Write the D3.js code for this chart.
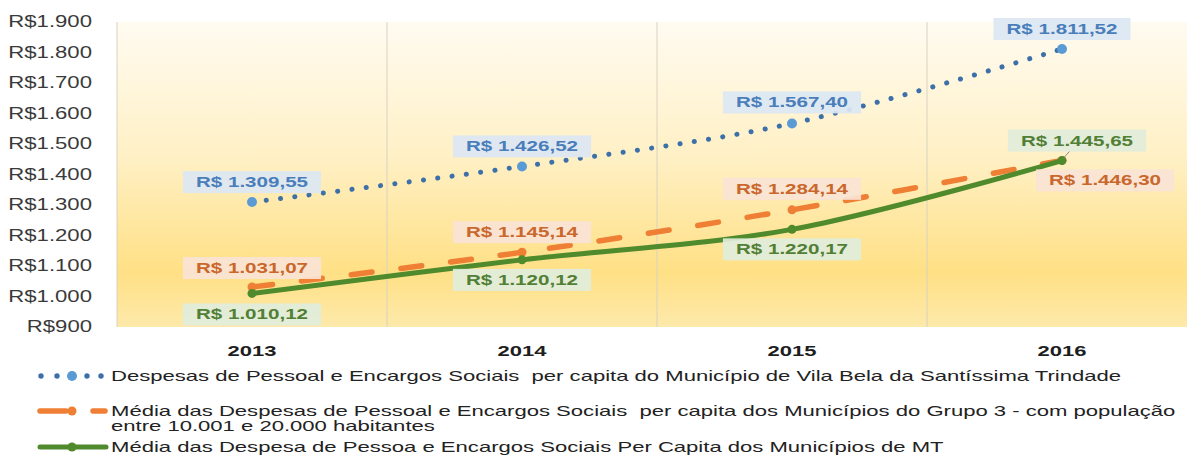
<!DOCTYPE html>
<html>
<head>
<meta charset="utf-8">
<script src="https://cdn.jsdelivr.net/npm/d3@7"></script>
<style>
  body { margin: 0; background: #fff; }
  text { font-family: "Liberation Sans", Arial, sans-serif; white-space: pre; }
</style>
</head>
<body>
<div id="chart"></div>
<script>
/* Data */
var years = ["2013", "2014", "2015", "2016"];
var vilaBela = [1309.55, 1426.52, 1567.40, 1811.52];
var grupo3 = [1031.07, 1145.14, 1284.14, 1446.30];
var mediaMT = [1010.12, 1120.12, 1220.17, 1445.65];
var yTicks = [900, 1000, 1100, 1200, 1300, 1400, 1500, 1600, 1700, 1800, 1900];
var legendLabels = [
  ["Despesas de Pessoal e Encargos Sociais  per capita do Município de Vila Bela da Santíssima Trindade"],
  ["Média das Despesas de Pessoal e Encargos Sociais  per capita dos Municípios do Grupo 3 - com população",
   "entre 10.001 e 20.000 habitantes"],
  ["Média das Despesa de Pessoa e Encargos Sociais Per Capita dos Municípios de MT"]
];

var width = 1187, height = 455;
var margin = {top: 22, left: 117, bottom: 327, right: 1197};
var SX = 1.42;   // the original picture is stretched sideways

var svg = d3.select("#chart").append("svg")
    .attr("width", width).attr("height", height);

var x = d3.scaleBand().domain(years).range([margin.left, margin.right]);
var y = d3.scaleLinear().domain([900, 1900]).range([margin.bottom, margin.top]);

function fmt(v) {
  var s = v.toFixed(2).split(".");
  return "R$ " + s[0].replace(/\B(?=(\d{3})+(?!\d))/g, ".") + "," + s[1];
}
function tickFmt(v) {
  return "R$" + String(v).replace(/\B(?=(\d{3})+(?!\d))/g, ".");
}

/* stretched text helper */
function stext(sel, tx, ty, str) {
  return sel.append("g")
      .attr("transform", "translate(" + tx + "," + ty + ") scale(" + SX + ",1)")
    .append("text").text(str);
}

/* plot background */
var defs = svg.append("defs");
var grad = defs.append("linearGradient").attr("id", "bg")
    .attr("x1", 0).attr("y1", 0).attr("x2", 0).attr("y2", 1);
grad.append("stop").attr("offset", "0%").attr("stop-color", "#fffbf1");
grad.append("stop").attr("offset", "45%").attr("stop-color", "#fff0c4");
grad.append("stop").attr("offset", "82%").attr("stop-color", "#ffe085");
grad.append("stop").attr("offset", "100%").attr("stop-color", "#fde9aa");

svg.append("rect")
    .attr("x", margin.left).attr("y", margin.top)
    .attr("width", margin.right - margin.left)
    .attr("height", margin.bottom - margin.top)
    .attr("fill", "url(#bg)");

/* vertical grid lines between the years */
svg.append("g").selectAll("line")
  .data(years)
  .enter().append("line")
    .attr("x1", function(d) { return x(d); })
    .attr("x2", function(d) { return x(d); })
    .attr("y1", margin.top).attr("y2", margin.bottom)
    .attr("stroke", "#d8d2c0").attr("stroke-width", 1);

/* y axis labels */
var yAx = svg.append("g").attr("fill", "#3a3a3a").attr("font-size", 15.6);
yTicks.forEach(function(t) {
  stext(yAx, 92, y(t) + 5, tickFmt(t)).attr("text-anchor", "end");
});

/* x axis labels */
var xAx = svg.append("g").attr("fill", "#1e1e1e").attr("font-size", 15.5).attr("font-weight", "bold");
years.forEach(function(d) {
  stext(xAx, x(d) + x.bandwidth() / 2, 356, d).attr("text-anchor", "middle");
});

var series = [
  {values: vilaBela, color: "#3d70a9", marker: "#5b9bd5", r: 5, width: 5, dash: "0.1 14.3",
   boxFill: "#dce7f3", textColor: "#4a7ebb",
   offsets: [[0, -20], [0, -20], [0, -21], [0, -20]]},
  {values: grupo3, color: "#ee7f34", marker: "#ee7f34", r: 4.5, width: 5.5, dash: "21 29",
   boxFill: "#fae3d5", textColor: "#c9672c",
   offsets: [[0, -19], [0, -20], [0, -21], [43, 20]]},
  {values: mediaMT, color: "#4f8a2c", marker: "#4f8a2c", r: 4.5, width: 5, dash: null,
   boxFill: "#e1eddb", textColor: "#527f36",
   offsets: [[0, 21], [0, 20], [0, 20], [15, -20]]}
];

var line = d3.line()
    .x(function(d, i) { return x(years[i]) + x.bandwidth() / 2; })
    .y(function(d) { return y(d); })
    .curve(d3.curveCatmullRom.alpha(0.5));

series.forEach(function(s) {
  svg.append("path")
      .attr("d", line(s.values))
      .attr("fill", "none")
      .attr("stroke", s.color)
      .attr("stroke-width", s.width)
      .attr("stroke-linecap", "round")
      .attr("stroke-dasharray", s.dash);
  svg.append("g").selectAll("circle")
    .data(s.values)
    .enter().append("circle")
      .attr("cx", function(d, i) { return x(years[i]) + x.bandwidth() / 2; })
      .attr("cy", function(d) { return y(d); })
      .attr("r", s.r)
      .attr("fill", s.marker);
});

/* leader line for the green 2016 label */
svg.append("line")
    .attr("x1", x("2016") + x.bandwidth() / 2 + 2).attr("y1", y(mediaMT[3]) - 3)
    .attr("x2", x("2016") + x.bandwidth() / 2 + 9).attr("y2", y(mediaMT[3]) - 11)
    .attr("stroke", "#8a8a8a").attr("stroke-width", 1);

/* data labels */
series.forEach(function(s) {
  s.values.forEach(function(v, i) {
    var cx = x(years[i]) + x.bandwidth() / 2 + s.offsets[i][0];
    var cy = y(v) + s.offsets[i][1];
    var g = svg.append("g");
    var box = g.append("rect");
    var t = stext(g, cx, cy + 5, fmt(v))
        .attr("text-anchor", "middle")
        .attr("font-size", 14.5)
        .attr("font-weight", "bold")
        .attr("fill", s.textColor);
    var w = t.node().getComputedTextLength() * SX + 26;
    box.attr("x", cx - w / 2).attr("y", cy - 11)
       .attr("width", w).attr("height", 22)
       .attr("fill", s.boxFill).attr("fill-opacity", 0.92);
  });
});

/* legend */
var leg = svg.append("g");
var legY = [376, 411, 447];

// blue dotted key
[41, 57, 87, 101].forEach(function(px) {
  leg.append("circle").attr("cx", px).attr("cy", legY[0]).attr("r", 2.7).attr("fill", series[0].color);
});
leg.append("circle").attr("cx", 72).attr("cy", legY[0]).attr("r", 5).attr("fill", series[0].marker);

// orange dashed key
leg.append("line").attr("x1", 40).attr("x2", 66).attr("y1", legY[1]).attr("y2", legY[1])
    .attr("stroke", series[1].color).attr("stroke-width", 5.5).attr("stroke-linecap", "round");
leg.append("circle").attr("cx", 72).attr("cy", legY[1]).attr("r", 4.5).attr("fill", series[1].marker);
leg.append("line").attr("x1", 93).attr("x2", 105).attr("y1", legY[1]).attr("y2", legY[1])
    .attr("stroke", series[1].color).attr("stroke-width", 5.5).attr("stroke-linecap", "round");

// green solid key
leg.append("line").attr("x1", 40).attr("x2", 106).attr("y1", legY[2]).attr("y2", legY[2])
    .attr("stroke", series[2].color).attr("stroke-width", 5).attr("stroke-linecap", "round");
leg.append("circle").attr("cx", 72).attr("cy", legY[2]).attr("r", 4.5).attr("fill", series[2].marker);

var legText = leg.append("g").attr("fill", "#222").attr("font-size", 15.55);
legendLabels.forEach(function(lines, k) {
  lines.forEach(function(str, j) {
    stext(legText, 111, legY[k] + 5 + j * 15, str);
  });
});
</script>
</body>
</html>
